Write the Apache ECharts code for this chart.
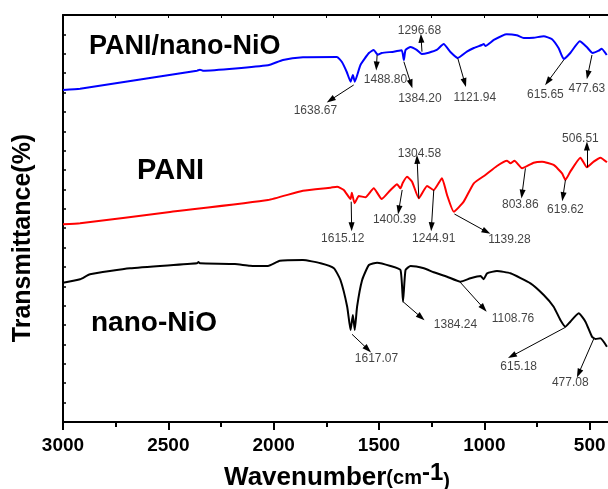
<!DOCTYPE html>
<html>
<head>
<meta charset="utf-8">
<script src="https://cdn.jsdelivr.net/npm/echarts@6.0.0/dist/echarts.min.js"></script>
<style>
  html, body { margin: 0; padding: 0; background: #fff; }
  #chart { width: 608px; height: 489px; }
</style>
</head>
<body>
<div id="chart"></div>
<script>
// FTIR spectra, wavenumber (cm-1) vs transmittance (arbitrary, offset per sample)
const compositeWn = [3000, 2919, 2364, 2350, 2336, 2027, 1956, 1861, 1700, 1676, 1653, 1635, 1624, 1615, 1588, 1548, 1525, 1506, 1487, 1430, 1392, 1382, 1374, 1350, 1321, 1297, 1264, 1226, 1193, 1161, 1126, 1083, 1050, 1012, 1003, 995, 955, 894, 846, 813, 766, 718, 680, 647, 623, 592, 547, 514, 486, 457, 443, 419];
const compositeT = [85.66, 85.99, 90.63, 90.89, 90.63, 92.03, 93.40, 94.09, 94.17, 92.88, 90.30, 87.80, 89.53, 87.80, 92.11, 95.20, 95.98, 94.76, 95.20, 95.54, 95.90, 93.40, 95.98, 96.75, 95.98, 94.94, 95.28, 95.98, 97.52, 95.46, 93.91, 95.54, 96.49, 97.27, 97.52, 97.01, 98.56, 100.03, 99.77, 99.07, 99.15, 99.51, 98.81, 96.41, 93.65, 95.20, 98.22, 96.75, 95.20, 95.79, 96.31, 94.69];

const paniWn = [3000, 2919, 2492, 2027, 1861, 1730, 1699, 1667, 1635, 1629, 1616, 1596, 1564, 1525, 1487, 1445, 1414, 1398, 1387, 1367, 1343, 1311, 1272, 1240, 1201, 1177, 1145, 1098, 1050, 995, 940, 892, 876, 857, 821, 766, 726, 671, 631, 615, 592, 544, 513, 481, 449, 418];
const paniT = [51.01, 51.26, 54.18, 57.28, 59.67, 60.45, 60.71, 59.86, 57.53, 59.16, 56.42, 58.31, 57.97, 60.29, 57.53, 59.86, 61.33, 60.29, 61.74, 63.29, 62.00, 57.71, 60.89, 59.86, 62.87, 58.57, 54.26, 56.84, 61.58, 63.73, 66.05, 67.41, 66.74, 67.41, 65.45, 66.90, 67.16, 66.31, 64.16, 62.44, 64.58, 68.19, 65.71, 67.16, 68.19, 67.00];

const nioWn = [3000, 2919, 2872, 2682, 2364, 2357, 2350, 2184, 2113, 2027, 1971, 1861, 1777, 1714, 1683, 1651, 1635, 1624, 1615, 1604, 1580, 1548, 1509, 1445, 1398, 1386, 1374, 1350, 1287, 1240, 1177, 1113, 1066, 1018, 1003, 987, 940, 876, 781, 718, 671, 639, 615, 592, 552, 520, 489, 473, 449, 418];
const nioT = [35.94, 36.82, 38.11, 39.65, 40.94, 41.28, 40.94, 40.76, 40.33, 40.25, 41.61, 41.80, 40.94, 39.65, 36.64, 29.75, 23.74, 27.61, 23.74, 29.75, 36.64, 40.51, 41.10, 40.25, 39.22, 31.04, 39.22, 40.25, 39.65, 38.62, 37.49, 36.20, 37.07, 37.67, 36.82, 38.36, 38.96, 38.36, 35.78, 32.77, 29.75, 26.32, 24.59, 25.88, 28.04, 25.88, 22.01, 21.41, 21.59, 19.43];

// peak annotations: [label, arrow tail wn, tail T, arrow head wn, head T, text wn, text T]
const compositePeaks = [
  ['1638.67', 1620, 86.95, 1730, 83.08, 1802, 80.32],
  ['1488.80', 1509, 94.69, 1512, 91.85, 1469, 88.24],
  ['1384.20', 1382, 92.96, 1348, 87.20, 1306, 83.33],
  ['1296.68', 1296, 95.54, 1300, 98.99, 1308, 100.88],
  ['1121.94', 1126, 93.83, 1093, 87.54, 1045, 83.77],
  ['615.65', 623, 93.40, 699, 87.80, 710, 84.37],
  ['477.63', 489, 94.69, 509, 89.53, 513, 86.09]
];
const paniPeaks = [
  ['1615.12', 1632, 56.84, 1630, 50.39, 1672, 47.39],
  ['1400.39', 1390, 59.86, 1406, 54.70, 1426, 52.12],
  ['1304.58', 1311, 57.71, 1319, 67.78, 1308, 69.32],
  ['1244.91', 1240, 59.86, 1251, 50.39, 1240, 47.39],
  ['1139.28', 1142, 53.66, 990, 49.10, 881, 46.96],
  ['803.86', 805, 65.45, 821, 58.82, 829, 55.99],
  ['619.62', 615, 62.44, 627, 58.13, 615, 54.70],
  ['506.51', 513, 65.71, 513, 71.21, 544, 73.19]
];
const nioPeaks = [
  ['1617.07', 1628, 22.63, 1553, 18.76, 1512, 16.25],
  ['1384.24', 1386, 31.04, 1300, 27.01, 1137, 25.03],
  ['1108.76', 1117, 36.20, 1003, 29.33, 864, 26.57],
  ['615.18', 615, 24.43, 869, 17.03, 837, 14.27],
  ['477.08', 481, 21.41, 552, 12.56, 592, 10.14]
];

const font = '"Liberation Sans", Arial, sans-serif';
const allPeaks = compositePeaks.concat(paniPeaks, nioPeaks);

function spectrum(name, wn, t, color) {
  return {
    name: name,
    type: 'line',
    data: wn.map((w, i) => [w, t[i]]),
    showSymbol: false,
    smooth: 0.15,
    lineStyle: { color: color, width: 2 },
    itemStyle: { color: color },
    z: 3
  };
}

const chart = echarts.init(document.getElementById('chart'));

chart.setOption({
  animation: false,
  backgroundColor: '#fff',
  // the plot runs on past the right edge of the picture, down to 0 cm-1
  grid: { left: 63, top: 15, width: 632, height: 407, outerBoundsMode: 'none', containLabel: false },
  xAxis: [
    {
      type: 'value',
      position: 'bottom',
      inverse: true,
      min: 0,
      max: 3000,
      interval: 500,
      axisLine: { show: true, onZero: false, lineStyle: { color: '#000', width: 2 } },
      axisTick: { show: true, inside: false, length: 8, lineStyle: { color: '#000', width: 2 } },
      minorTick: { show: true, splitNumber: 2, length: 5, lineStyle: { color: '#000', width: 2 } },
      axisLabel: {
        color: '#000', fontSize: 19, fontWeight: 'bold', fontFamily: font, margin: 14,
        formatter: (v) => String(v)
      },
      splitLine: { show: false },
      minorSplitLine: { show: false }
    },
    {
      type: 'value',
      position: 'top',
      inverse: true,
      min: 0,
      max: 3000,
      interval: 250,
      axisLine: { show: true, onZero: false, lineStyle: { color: '#000', width: 2 } },
      axisTick: { show: true, inside: true, length: 3, lineStyle: { color: '#000', width: 1 } },
      axisLabel: { show: false },
      splitLine: { show: false }
    }
  ],
  yAxis: {
    type: 'value',
    position: 'left',
    min: 0,
    max: 105,
    interval: 5,
    axisLine: { show: true, onZero: false, lineStyle: { color: '#000', width: 2 } },
    axisTick: { show: true, inside: true, length: 3, lineStyle: { color: '#000', width: 1.5 } },
    axisLabel: { show: false },
    splitLine: { show: false }
  },
  series: [
    spectrum('PANI/nano-NiO', compositeWn, compositeT, '#0000ff'),
    spectrum('PANI', paniWn, paniT, '#ff0000'),
    spectrum('nano-NiO', nioWn, nioT, '#000000'),
    {
      name: 'arrows',
      type: 'line',
      data: [],
      markLine: {
        silent: true,
        symbol: ['none', 'triangle'],
        symbolSize: [6, 9],
        label: { show: false },
        lineStyle: { color: '#000', width: 1, type: 'solid' },
        itemStyle: { color: '#000' },
        data: allPeaks.map(p => [{ coord: [p[1], p[2]] }, { coord: [p[3], p[4]] }])
      }
    },
    {
      name: 'peak labels',
      type: 'scatter',
      symbolSize: 0,
      data: allPeaks.map(p => [p[5], p[6], p[0]]),
      label: {
        show: true,
        position: 'inside',
        formatter: (params) => params.value[2],
        color: '#111',
        fontSize: 12,
        fontFamily: font
      },
      silent: true
    }
  ],
  graphic: [
    {
      type: 'text', left: 89, top: 33,
      style: { text: 'PANI/nano-NiO', fill: '#000', font: 'bold 27px ' + font }
    },
    {
      type: 'text', left: 137, top: 156,
      style: { text: 'PANI', fill: '#000', font: 'bold 29px ' + font }
    },
    {
      type: 'text', left: 91, top: 309,
      style: { text: 'nano-NiO', fill: '#000', font: 'bold 28px ' + font }
    },
    {
      type: 'text', x: 23, y: 238, rotation: Math.PI / 2,
      style: {
        text: 'Transmittance(%)', fill: '#000', font: 'bold 25px ' + font,
        align: 'center', verticalAlign: 'middle'
      }
    },
    {
      type: 'text', x: 337, y: 476,
      style: {
        text: '{a|Wavenumber}{b|(cm}{c|-1}{d|)}',
        align: 'center',
        verticalAlign: 'middle',
        fill: '#000',
        rich: {
          a: { fontSize: 26, fontWeight: 'bold', fontFamily: font, verticalAlign: 'bottom', lineHeight: 30 },
          b: { fontSize: 20, fontWeight: 'bold', fontFamily: font, verticalAlign: 'bottom', lineHeight: 27, padding: [0, 0, 3, 0] },
          c: { fontSize: 24, fontWeight: 'bold', fontFamily: font, verticalAlign: 'top', lineHeight: 24 },
          d: { fontSize: 20, fontWeight: 'bold', fontFamily: font, verticalAlign: 'bottom', lineHeight: 24 }
        }
      }
    }
  ]
});

window.addEventListener('resize', () => chart.resize());
</script>
</body>
</html>
